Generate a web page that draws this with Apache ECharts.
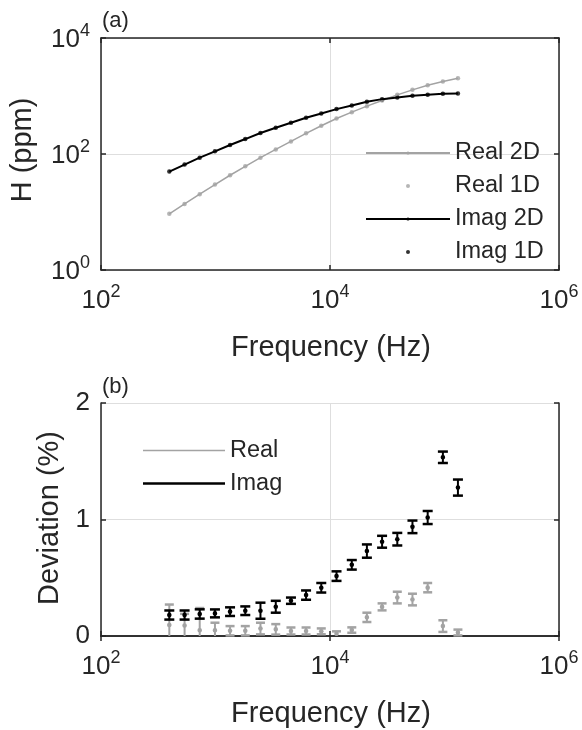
<!DOCTYPE html>
<html>
<head>
<meta charset="utf-8">
<script src="https://cdn.jsdelivr.net/npm/echarts@6/dist/echarts.min.js"></script>
<style>
  html, body { margin: 0; padding: 0; background: #fff; }
  #chart { width: 582px; height: 730px; }
</style>
</head>
<body>
<div id="chart"></div>
<script>
// frequencies (Hz), same 20 points in both panels
var freqs = [395, 537, 728, 989, 1340, 1820, 2470, 3360, 4560, 6180,
             8390, 11400, 15500, 21000, 28500, 38700, 52500, 71300, 96800, 131000];

// panel (a): H in ppm
var realH = [9.3, 13.8, 20.3, 29.7, 43, 61.4, 86.5, 120, 165, 227,
             307, 410, 527, 669, 837, 1047, 1276, 1535, 1774, 2027];
var imagH = [49.7, 65.6, 86.5, 111, 143, 181, 230, 284, 346, 422,
             500, 594, 687, 794, 883, 942, 1007, 1047, 1089, 1104];

// panel (b): deviation (%) with error half-widths
var realDev = [0.094, 0.09, 0.05, 0.05, 0.045, 0.045, 0.064, 0.057, 0.043, 0.043,
               0.04, 0.02, 0.051, 0.16, 0.25, 0.33, 0.313, 0.415, 0.085, 0.03];
var realErr = [0.176, 0.1, 0.19, 0.064, 0.04, 0.04, 0.05, 0.045, 0.03, 0.03,
               0.025, 0.02, 0.023, 0.04, 0.03, 0.05, 0.05, 0.04, 0.05, 0.025];
var imagDev = [0.18, 0.18, 0.189, 0.194, 0.209, 0.217, 0.217, 0.251, 0.303, 0.351,
               0.414, 0.514, 0.611, 0.729, 0.809, 0.831, 0.937, 1.017, 1.534, 1.274];
var imagErr = [0.039, 0.039, 0.04, 0.034, 0.037, 0.037, 0.069, 0.051, 0.027, 0.04,
               0.041, 0.041, 0.041, 0.057, 0.051, 0.054, 0.054, 0.056, 0.049, 0.069];

var FONT = '"Liberation Sans", Arial, sans-serif';
var INK = '#262626';
var GRAY = '#a3a3a3';
var GRID = '#dedede';

function pairs(ys) {
  return freqs.map(function (f, i) { return [f, ys[i]]; });
}
function triples(ys, es) {
  return freqs.map(function (f, i) { return [f, ys[i], es[i]]; });
}

// 10^n labels, exponent lifted with bottom padding
var powRich = {
  b: { fontFamily: FONT, fontSize: 26, lineHeight: 26, color: INK, padding: [4, 0, 0, 0] },
  e: { fontFamily: FONT, fontSize: 18, lineHeight: 18, color: INK, padding: [0, 0, 14, 0] }
};
function powLabel(v) {
  return '{b|10}{e|' + Math.round(Math.log10(v)) + '}';
}

function mainLog(gridIndex, min, max, position) {
  return {
    type: 'log', logBase: 10, gridIndex: gridIndex, position: position,
    min: min, max: max, interval: 2,
    axisLine: { show: true, lineStyle: { color: INK, width: 1.5 } },
    axisTick: { show: true, inside: true, length: 5, lineStyle: { color: INK, width: 1.5 } },
    minorTick: { show: false },
    splitLine: { show: true, lineStyle: { color: GRID, width: 1 } },
    axisLabel: { formatter: powLabel, rich: powRich, margin: position === 'bottom' ? 16 : 11 }
  };
}
function mirror(base, position) {
  var a = Object.assign({}, base);
  a.position = position;
  a.splitLine = { show: false };
  a.axisLabel = { show: false };
  return a;
}

function errorBars(color, capW, lw) {
  return function (params, api) {
    var f = api.value(0), v = api.value(1), e = api.value(2);
    var hi = api.coord([f, v + e]);
    var lo = api.coord([f, Math.max(v - e, 0)]);
    var mid = api.coord([f, v]);
    var x = hi[0];
    var kids = [
      { type: 'line', shape: { x1: x, y1: hi[1], x2: x, y2: lo[1] }, style: { stroke: color, lineWidth: lw } },
      { type: 'line', shape: { x1: x - capW / 2, y1: hi[1], x2: x + capW / 2, y2: hi[1] }, style: { stroke: color, lineWidth: lw + 0.5 } },
      { type: 'circle', shape: { cx: x, cy: mid[1], r: 2.3 }, style: { fill: color } }
    ];
    if (v - e > 0) {
      kids.push({ type: 'line', shape: { x1: x - capW / 2, y1: lo[1], x2: x + capW / 2, y2: lo[1] }, style: { stroke: color, lineWidth: lw + 0.5 } });
    }
    return { type: 'group', children: kids };
  };
}

var xTop = mainLog(0, 100, 1e6, 'bottom');
var yTop = mainLog(0, 1, 1e4, 'left');
var xBot = mainLog(1, 100, 1e6, 'bottom');
var yBot = {
  type: 'value', gridIndex: 1, position: 'left', min: 0, max: 2, interval: 1,
  axisLine: { show: true, lineStyle: { color: INK, width: 1.5 } },
  axisTick: { show: true, inside: true, length: 5, lineStyle: { color: INK, width: 1.5 } },
  splitLine: { show: true, lineStyle: { color: GRID, width: 1 } },
  axisLabel: { fontFamily: FONT, fontSize: 26, color: INK, margin: 11 }
};

var chart = echarts.init(document.getElementById('chart'), null, { renderer: 'canvas' });
chart.setOption({
  animation: false,
  backgroundColor: '#fff',
  grid: [
    { left: 101, right: 23, top: 38, height: 232 },
    { left: 101, right: 23, top: 403, height: 233 }
  ],
  xAxis: [xTop, mirror(xTop, 'top'), xBot, mirror(xBot, 'top')],
  yAxis: [yTop, mirror(yTop, 'right'), yBot, mirror(yBot, 'right')],
  legend: [
    {
      data: ['Real 2D', 'Real 1D', 'Imag 2D', 'Imag 1D'],
      orient: 'vertical', left: 365, top: 136.5, padding: 0, itemGap: 0,
      itemWidth: 84, itemHeight: 4, selectedMode: false,
      textStyle: { fontFamily: FONT, fontSize: 23.5, lineHeight: 33, color: INK }
    },
    {
      data: [
        { name: 'Real', icon: 'path://M0,0H80V1.6H0Z' },
        { name: 'Imag', icon: 'path://M0,0H80V2.4H0Z' }
      ],
      orient: 'vertical', left: 143, top: 434, padding: 0, itemGap: 0,
      itemWidth: 82, itemHeight: 4, selectedMode: false,
      textStyle: { fontFamily: FONT, fontSize: 23.5, lineHeight: 33, color: INK }
    }
  ],
  graphic: [
    { type: 'text', x: 102, y: 21, style: { text: '(a)', font: '22px ' + FONT, fill: INK, align: 'left', verticalAlign: 'middle' } },
    { type: 'text', x: 102, y: 387, style: { text: '(b)', font: '22px ' + FONT, fill: INK, align: 'left', verticalAlign: 'middle' } },
    { type: 'text', x: 23, y: 150, rotation: Math.PI / 2, style: { text: 'H (ppm)', font: '29px ' + FONT, fill: INK, align: 'center', verticalAlign: 'middle' } },
    { type: 'text', x: 331, y: 348, style: { text: 'Frequency (Hz)', font: '29px ' + FONT, fill: INK, align: 'center', verticalAlign: 'middle' } },
    { type: 'text', x: 50, y: 518, rotation: Math.PI / 2, style: { text: 'Deviation (%)', font: '29px ' + FONT, fill: INK, align: 'center', verticalAlign: 'middle' } },
    { type: 'text', x: 331, y: 714, style: { text: 'Frequency (Hz)', font: '29px ' + FONT, fill: INK, align: 'center', verticalAlign: 'middle' } }
  ],
  series: [
    {
      name: 'Real 2D', type: 'line', xAxisIndex: 0, yAxisIndex: 0,
      data: pairs(realH), symbol: 'none', color: GRAY,
      lineStyle: { color: GRAY, width: 1.5 }
    },
    {
      name: 'Real 1D', type: 'scatter', xAxisIndex: 0, yAxisIndex: 0,
      data: pairs(realH), symbol: 'circle', symbolSize: 4.5, itemStyle: { color: GRAY }
    },
    {
      name: 'Imag 2D', type: 'line', xAxisIndex: 0, yAxisIndex: 0,
      data: pairs(imagH), symbol: 'none', color: '#000',
      lineStyle: { color: '#000', width: 2 }
    },
    {
      name: 'Imag 1D', type: 'scatter', xAxisIndex: 0, yAxisIndex: 0,
      data: pairs(imagH), symbol: 'circle', symbolSize: 4.5, itemStyle: { color: '#000' }
    },
    {
      name: 'Real', type: 'custom', xAxisIndex: 2, yAxisIndex: 2,
      data: triples(realDev, realErr), encode: { x: 0, y: 1 },
      itemStyle: { color: GRAY },
      renderItem: errorBars(GRAY, 9, 2)
    },
    {
      name: 'Imag', type: 'custom', xAxisIndex: 2, yAxisIndex: 2,
      data: triples(imagDev, imagErr), encode: { x: 0, y: 1 },
      itemStyle: { color: '#000' },
      renderItem: errorBars('#000', 10, 2)
    }
  ]
});
</script>
</body>
</html>
